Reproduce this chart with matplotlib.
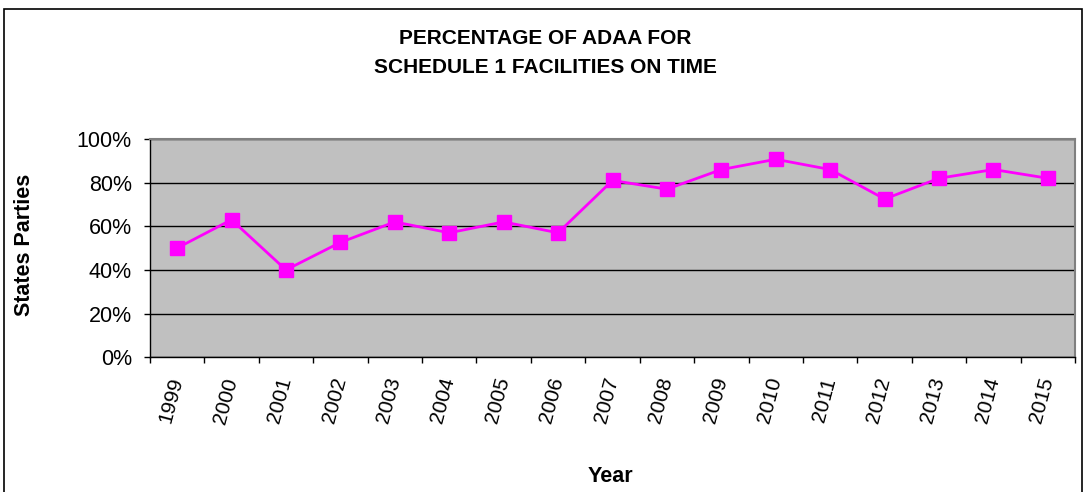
import matplotlib.pyplot as plt
from matplotlib.patches import Rectangle
from matplotlib.ticker import FixedLocator, FuncFormatter

years = ["1999", "2000", "2001", "2002", "2003", "2004", "2005", "2006", "2007",
         "2008", "2009", "2010", "2011", "2012", "2013", "2014", "2015"]
pct = [50, 63, 40, 52.6, 62, 57, 62, 57, 81, 77, 86, 90.7, 86, 72.5, 82, 86, 82]

plt.rcParams["font.family"] = ["Liberation Sans", "DejaVu Sans"]

fig = plt.figure(figsize=(10.86, 4.92), dpi=100)
ax = fig.add_axes([0.138, 0.274, 0.852, 0.4435])
ax.set_facecolor("#c0c0c0")

x = list(range(len(years)))
ax.plot(x, pct, color="#ff00ff", lw=2, marker="s", ms=10, zorder=3)

ax.set_xlim(-0.5, len(years) - 0.5)
ax.set_ylim(0, 100)
ax.yaxis.set_major_locator(FixedLocator([0, 20, 40, 60, 80, 100]))
ax.yaxis.set_major_formatter(FuncFormatter(lambda v, p: f"{v:.0f}%"))
ax.grid(axis="y", color="black", lw=1)
ax.set_axisbelow(True)

# category style ticks: marks at boundaries, labels at centres
ax.set_xticks([i - 0.5 for i in range(len(years) + 1)])
ax.set_xticklabels([])
ax.set_xticks(x, minor=True)
ax.set_xticklabels(years, minor=True, rotation=75, ha="right", va="center",
                   rotation_mode="anchor", fontsize=15)
ax.tick_params(axis="x", which="minor", length=0, pad=15)
ax.tick_params(axis="x", which="major", length=4, width=1, direction="out")
ax.tick_params(axis="y", length=4, width=1, labelsize=15.5, pad=9)

for s in ["top", "right"]:
    ax.spines[s].set_color("#808080")
    ax.spines[s].set_linewidth(1.5)
for s in ["left", "bottom"]:
    ax.spines[s].set_color("black")
    ax.spines[s].set_linewidth(1)

fig.text(0.023, 0.502, "States Parties", fontsize=15.5, fontweight="bold",
         rotation=90, ha="center", va="center")
fig.text(0.562, 0.032, "Year", fontsize=15.5, fontweight="bold", ha="center", va="center")
fig.text(0.502, 0.921, "PERCENTAGE OF ADAA FOR", fontsize=15, fontweight="bold",
         ha="center", va="center")
fig.text(0.502, 0.862, "SCHEDULE 1 FACILITIES ON TIME", fontsize=15, fontweight="bold",
         ha="center", va="center")

fig.patches.append(Rectangle((0.004, -0.01), 0.992, 0.992, transform=fig.transFigure,
                             fill=False, edgecolor="black", lw=1.2))

fig.savefig("out.png", dpi=100)
